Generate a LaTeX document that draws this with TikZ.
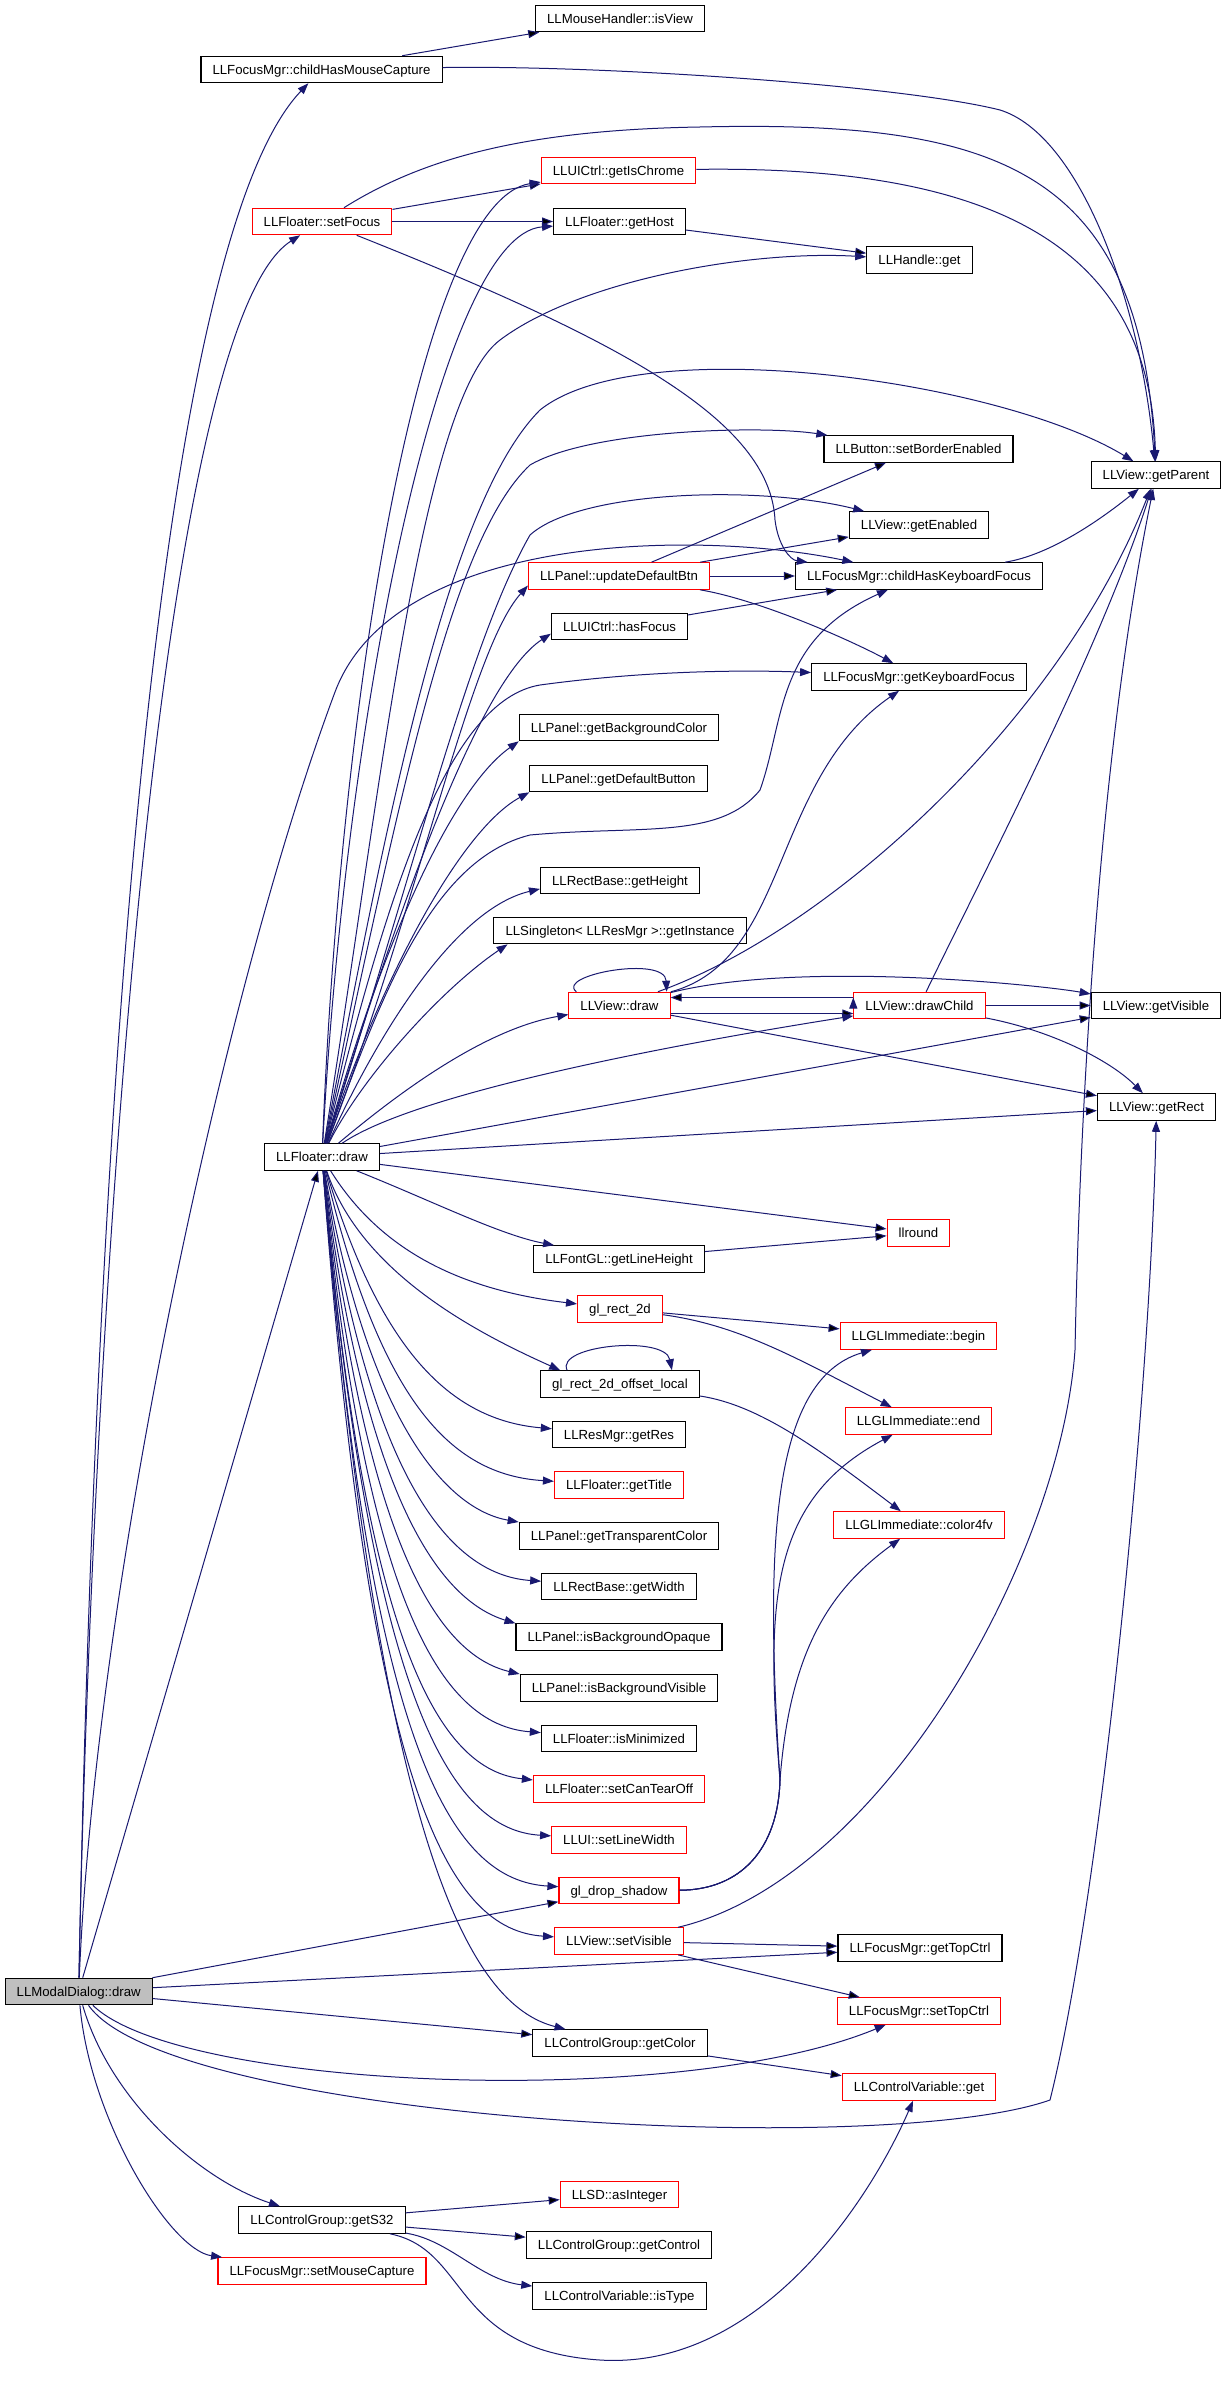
\documentclass[tikz,border=0pt]{standalone}
\usepackage{fontspec}
\usepackage{tikz}
\usetikzlibrary{arrows.meta,positioning}
\usepackage{xcolor}
\newfontfamily\dxfont{Liberation Sans}
\definecolor{edgeblue}{HTML}{191970}
\definecolor{rootgray}{HTML}{BFBFBF}

\begin{document}
\begin{tikzpicture}[->,>={Triangle[length=5.5pt,width=4pt]},x=0.5pt,y=-0.5pt,
node distance=25.33pt,
call/.style={draw=edgeblue,line width=0.5pt},
fn node/.style={rectangle,draw=black,line width=0.55pt,fill=white,text=black,
  font=\dxfont\fontsize{6.6pt}{8pt}\selectfont,inner xsep=5.8pt,inner ysep=4.25pt,
  text height=4.75pt,text depth=0pt},
red node/.style={fn node,draw=red},
root node/.style={fn node,fill=rootgray}]

\path[use as bounding box,fill=white] (0,0) rectangle (1227,2381);

\node[fn node] (isview) at (620,18.5) {LLMouseHandler::isView};
\node[fn node] (cmc) at (321.5,69.5) {LLFocusMgr::childHasMouseCapture};
\node[red node] (chrome) at (618.5,170.5) {LLUICtrl::getIsChrome};
\node[red node] (setfocus) at (322,221.5) {LLFloater::setFocus};
\node[fn node] (gethost) at (619.5,221.5) {LLFloater::getHost};
\node[fn node] (handle) at (919.5,260) {LLHandle::get};
\node[fn node] (border) at (918.5,449) {LLButton::setBorderEnabled};
\node[fn node] (parent) at (1156,475) {LLView::getParent};
\node[fn node] (enabled) at (919,525) {LLView::getEnabled};
\node[red node] (defbtn) at (619,576) {LLPanel::updateDefaultBtn};
\node[fn node] (chkf) at (919,576) {LLFocusMgr::childHasKeyboardFocus};
\node[fn node] (hasfocus) at (619.5,626.5) {LLUICtrl::hasFocus};
\node[fn node] (kbf) at (919,677) {LLFocusMgr::getKeyboardFocus};
\node[fn node] (bgcolor) at (619,727.5) {LLPanel::getBackgroundColor};
\node[fn node] (defbutton) at (618.5,778.5) {LLPanel::getDefaultButton};
\node[fn node] (height) at (620,880.5) {LLRectBase::getHeight};
\node[fn node] (instance) at (620,930.5) {LLSingleton< LLResMgr >::getInstance};
\node[red node] (vdraw) at (619.5,1005.5) {LLView::draw};
\node[red node] (drawchild) at (919.5,1005.5) {LLView::drawChild};
\node[fn node] (visible) at (1156,1005.5) {LLView::getVisible};
\node[fn node] (rect) at (1156.5,1107) {LLView::getRect};
\node[fn node] (fdraw) at (322,1157) {LLFloater::draw};
\node[red node] (llround) at (918.5,1233) {llround};
\node[fn node] (lineheight) at (619,1259) {LLFontGL::getLineHeight};
\node[red node] (rect2d) at (620,1309) {gl\_rect\_2d};
\node[red node] (begin) at (918.5,1336) {LLGLImmediate::begin};
\node[fn node] (offlocal) at (620,1384) {gl\_rect\_2d\_offset\_local};
\node[red node] (glend) at (918.5,1421) {LLGLImmediate::end};
\node[fn node] (getres) at (619,1434.5) {LLResMgr::getRes};
\node[red node] (title) [below of=getres] {LLFloater::getTitle};
\node[red node] (color4fv) at (919,1525) {LLGLImmediate::color4fv};
\node[fn node] (transp) [below of=title] {LLPanel::getTransparentColor};
\node[fn node] (width) [below of=transp] {LLRectBase::getWidth};
\node[fn node] (opaque) [below of=width] {LLPanel::isBackgroundOpaque};
\node[fn node] (bgvisible) [below of=opaque] {LLPanel::isBackgroundVisible};
\node[fn node] (minimized) [below of=bgvisible] {LLFloater::isMinimized};
\node[red node] (tearoff) [below of=minimized] {LLFloater::setCanTearOff};
\node[red node] (linewidth) [below of=tearoff] {LLUI::setLineWidth};
\node[red node] (shadow) [below of=linewidth] {gl\_drop\_shadow};
\node[red node] (setvisible) [below of=shadow] {LLView::setVisible};
\node[fn node] (gettop) at (920,1948) {LLFocusMgr::getTopCtrl};
\node[root node] (modal) at (78.7,1991.5) {LLModalDialog::draw};
\node[red node] (settop) at (919,2011) {LLFocusMgr::setTopCtrl};
\node[fn node] (getcolor) at (620,2043) {LLControlGroup::getColor};
\node[red node] (cvget) at (919,2087) {LLControlVariable::get};
\node[red node] (asint) at (619.5,2194.5) {LLSD::asInteger};
\node[fn node] (gets32) at (322,2220) {LLControlGroup::getS32};
\node[fn node] (getcontrol) at (619,2245) {LLControlGroup::getControl};
\node[red node] (setmouse) at (322,2271) {LLFocusMgr::setMouseCapture};
\node[fn node] (istype) at (619.5,2296) {LLControlVariable::isType};

% LLModalDialog::draw
\draw[call] (modal) .. controls (92,1300) and (140,260) .. (cmc);
\draw[call] (modal) .. controls (90,1400) and (150,330) .. (setfocus);
\draw[call] (modal) .. controls (95,1600) and (220,1000) .. (335,692) .. controls (395,532) and (700,530) .. (chkf);
\path[call] (modal) edge (fdraw) (modal) edge (shadow) (modal) edge (gettop) (modal) edge (getcolor);
\draw[call] (modal) .. controls (180,2090) and (680,2110) .. (settop);
\draw[call] (modal) .. controls (170,2120) and (880,2160) .. (1050,2100) .. controls (1100,1900) and (1150,1400) .. (rect);
\draw[call] (modal) .. controls (110,2100) and (200,2180) .. (gets32);
\draw[call] (modal) .. controls (90,2120) and (170,2250) .. (setmouse);

\path[call] (setfocus) edge (chrome) (setfocus) edge (gethost) (cmc) edge (isview)
(gethost) edge (handle) (defbtn) edge (border) (defbtn) edge (enabled)
(defbtn) edge (chkf) (hasfocus) edge (chkf);
\draw[call] (setfocus) .. controls (620,340) and (770,420) .. (775,520) .. controls (778,545) and (790,560) .. (chkf);
\draw[call] (setfocus) .. controls (420,160) and (520,130) .. (700,127) .. controls (1000,120) and (1140,170) .. (parent);
\draw[call] (cmc) .. controls (600,65) and (900,85) .. (1000,110) .. controls (1080,135) and (1140,300) .. (parent);
\draw[call] (chrome) .. controls (1000,165) and (1150,250) .. (parent);
\draw[call] (defbtn) .. controls (760,600) and (850,640) .. (kbf);
\draw[call] (chkf) .. controls (1050,555) and (1100,520) .. (parent);

% LLView::draw and LLView::drawChild
\draw[call] ([xshift=4pt]vdraw.north west) .. controls (555,975) and (665,955) .. ([xshift=-2pt]vdraw.north east);
\draw[call] (vdraw) .. controls (790,960) and (770,780) .. (kbf);
\draw[call] (vdraw) .. controls (830,930) and (1060,720) .. (parent);
\draw[call] (vdraw) .. controls (800,960) and (1040,985) .. (visible);
\path[call] ([yshift=-4pt]vdraw.east) edge ([yshift=-4pt]drawchild.west)
([yshift=4pt]drawchild.west) edge ([yshift=4pt]vdraw.east)
(vdraw) edge (rect) (drawchild) edge (visible);
\draw[call] (drawchild) .. controls (1050,1030) and (1110,1060) .. (rect);
\draw[call] (drawchild) .. controls (980,880) and (1100,650) .. (parent);

% LLFloater::draw
\draw[call] (fdraw) .. controls (340,700) and (420,200) .. (chrome);
\draw[call] (fdraw) .. controls (345,720) and (440,234) .. (gethost);
\draw[call] (fdraw) .. controls (380,800) and (420,400) .. (500,340) .. controls (580,280) and (750,250) .. (handle);
\draw[call] (fdraw) .. controls (390,800) and (450,500) .. (540,410) .. controls (640,330) and (1000,380) .. (parent);
\draw[call] (fdraw) .. controls (400,800) and (450,540) .. (530,465) .. controls (590,430) and (760,425) .. (border);
\draw[call] (fdraw) .. controls (420,850) and (470,640) .. (530,535) .. controls (580,490) and (760,485) .. (enabled);
\draw[call] (fdraw) .. controls (420,900) and (470,650) .. (defbtn.186);
\draw[call] (fdraw) .. controls (400,900) and (480,680) .. (hasfocus.186);
\draw[call] (fdraw) .. controls (390,880) and (450,700) .. (540,685) .. controls (650,670) and (750,670) .. (kbf);
\draw[call] (fdraw) .. controls (380,950) and (450,790) .. (bgcolor.south west);
\draw[call] (fdraw) .. controls (380,980) and (460,830) .. (defbutton.south west);
\draw[call] (fdraw) .. controls (380,1000) and (430,860) .. (530,835) .. controls (640,825) and (720,840) .. (760,790) .. controls (785,720) and (775,640) .. (chkf);
\draw[call] (fdraw) .. controls (370,1050) and (450,910) .. (height.186);
\draw[call] (fdraw) .. controls (360,1080) and (440,990) .. (instance.187);
\draw[call] (fdraw) .. controls (390,1100) and (480,1030) .. (vdraw.190);
\draw[call] (fdraw) .. controls (420,1090) and (700,1040) .. (drawchild);
\path[call] (fdraw) edge (visible) (fdraw) edge (rect) (fdraw) edge (llround);
\draw[call] (fdraw) .. controls (430,1200) and (500,1235) .. (lineheight.168);
\draw[call] (fdraw) .. controls (380,1250) and (460,1290) .. (rect2d);
\draw[call] (fdraw) .. controls (360,1270) and (470,1330) .. (offlocal.167);
\draw[call] (fdraw) .. controls (380,1350) and (450,1420) .. (getres);
\draw[call] (fdraw) .. controls (380,1400) and (450,1475) .. (title);
\draw[call] (fdraw) .. controls (370,1430) and (450,1510) .. (transp.north west);
\draw[call] (fdraw) .. controls (370,1480) and (450,1575) .. (width);
\draw[call] (fdraw) .. controls (365,1500) and (440,1600) .. (opaque.north west);
\draw[call] (fdraw) .. controls (365,1550) and (440,1655) .. (bgvisible.north west);
\draw[call] (fdraw) .. controls (365,1600) and (440,1725) .. (minimized);
\draw[call] (fdraw) .. controls (365,1650) and (440,1770) .. (tearoff);
\draw[call] (fdraw) .. controls (370,1700) and (450,1830) .. (linewidth);
\draw[call] (fdraw) .. controls (370,1750) and (450,1880) .. (shadow);
\draw[call] (fdraw) .. controls (370,1800) and (450,1930) .. (setvisible);
\draw[call] (fdraw) .. controls (380,1850) and (470,2005) .. (getcolor);

% drawing helpers
\path[call] (rect2d) edge (begin) (lineheight) edge (llround);
\draw[call] (rect2d) .. controls (740,1325) and (800,1360) .. (glend);
\draw[call] ([xshift=13.5pt]offlocal.north west) .. controls (555,1345) and (665,1335) .. ([xshift=-14pt]offlocal.north east);
\draw[call] (offlocal) .. controls (760,1405) and (820,1450) .. (color4fv);
\draw[call] (shadow) .. controls (740,1890) and (778,1850) .. (780,1780) .. controls (765,1550) and (770,1380) .. (begin);
\draw[call] (shadow) .. controls (740,1890) and (778,1850) .. (780,1780) .. controls (765,1600) and (770,1500) .. (glend);
\draw[call] (shadow) .. controls (740,1890) and (778,1850) .. (780,1780) .. controls (790,1650) and (830,1590) .. (color4fv);

% setVisible, getColor, getS32
\path[call] (setvisible) edge (gettop) (setvisible) edge (settop) (getcolor) edge (cvget)
(gets32) edge (asint) (gets32) edge (getcontrol);
\draw[call] (setvisible) .. controls (880,1880) and (1060,1560) .. (1075,1350) .. controls (1080,1100) and (1100,750) .. (parent);
\draw[call] (gets32) .. controls (450,2240) and (480,2280) .. (istype);
\draw[call] (gets32) .. controls (470,2250) and (450,2350) .. (600,2360) .. controls (760,2370) and (870,2200) .. (cvget);
\end{tikzpicture}
\end{document}
